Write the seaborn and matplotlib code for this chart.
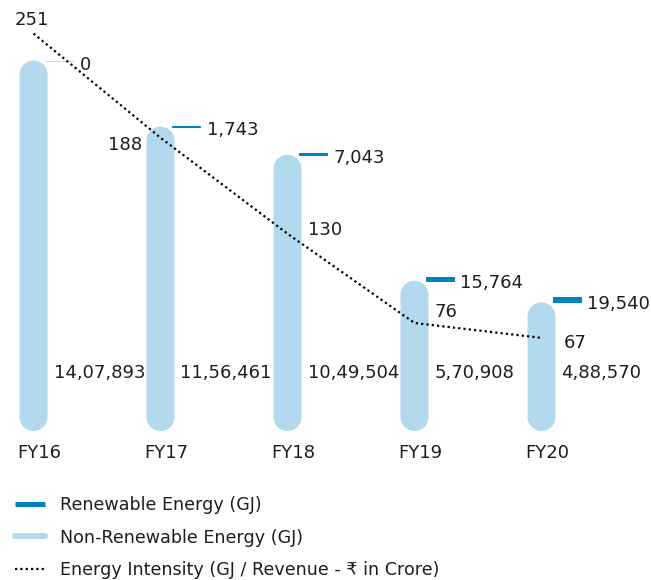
import numpy as np
import pandas as pd
import matplotlib
matplotlib.use("Agg")
import matplotlib.pyplot as plt
import matplotlib.transforms as mtransforms
from matplotlib.patches import PathPatch
from matplotlib.path import Path
from matplotlib.lines import Line2D
import seaborn as sns

# ---- data -----------------------------------------------------------------
years = ["FY16", "FY17", "FY18", "FY19", "FY20"]
non_renewable = [1407893, 1156461, 1049504, 570908, 488570]   # GJ
renewable = [0, 1743, 7043, 15764, 19540]                     # GJ
intensity = [251, 188, 130, 76, 67]                           # GJ / Revenue (₹ crore)

legend_labels = [
    "Renewable Energy (GJ)",
    "Non-Renewable Energy (GJ)",
    "Energy Intensity (GJ / Revenue - ₹ in Crore)",
]

# ---- styling --------------------------------------------------------------
LIGHT = "#B3D9EE"
DARK = "#0080C6"
INK = "#1E1E1E"
W, H, DPI = 651, 580, 100

sns.set_theme(style="white")
plt.rcParams["font.family"] = ["DejaVu Sans"]
plt.rcParams["text.color"] = INK


def indian_format(n):
    """Group digits the Indian way: 14,07,893."""
    s = str(int(n))
    if len(s) <= 3:
        return s
    head, tail = s[:-3], s[-3:]
    groups = []
    while len(head) > 2:
        groups.insert(0, head[-2:])
        head = head[:-2]
    if head:
        groups.insert(0, head)
    return ",".join(groups + [tail])


def pill_path(x0, y0, w, h, aspect):
    """Bar outline with semicircular ends; aspect = y units per x unit on screen."""
    r = w / 2
    cx = x0 + r
    top_c = (y0 + h) / aspect - r
    bot_c = y0 / aspect + r
    top = Path.arc(0, 180)
    bot = Path.arc(180, 360)
    tv = top.vertices * r + [cx, top_c]
    bv = bot.vertices * r + [cx, bot_c]
    verts = np.vstack([tv, bv, tv[:1]])
    codes = list(top.codes) + [Path.LINETO] + list(bot.codes[1:]) + [Path.CLOSEPOLY]
    verts[:, 1] *= aspect
    return Path(verts, codes)


fig = plt.figure(figsize=(W / DPI, H / DPI), dpi=DPI)
ax = fig.add_axes([0, 0, 1, 1])

# canvas scale: one category step = 127 px, 3800 GJ per px
STEP_PX = 127.0
GJ_PER_PX = 3800.0
XLIM = (-33.5 / STEP_PX, (W - 33.5) / STEP_PX)
YLIM = (-(H - 431) * GJ_PER_PX, 431 * GJ_PER_PX)
ILIM = ((448.7 - H) / 1.654, 448.7 / 1.654)

BAR_W = 28 / STEP_PX
df = pd.DataFrame({"year": years, "non_renewable": non_renewable})
sns.barplot(data=df, x="year", y="non_renewable", color=LIGHT, saturation=1,
            width=BAR_W, ax=ax)
ax.set_xlim(*XLIM)
ax.set_ylim(*YLIM)

# turn the bars into pills
aspect = ((YLIM[1] - YLIM[0]) / H) / ((XLIM[1] - XLIM[0]) / W)
for p in list(ax.patches):
    x0, y0 = p.get_xy()
    w, h = p.get_width(), p.get_height()
    p.remove()
    ax.add_patch(PathPatch(pill_path(x0, y0, w, h, aspect), fc=LIGHT,
                           ec="none", zorder=2))

xs = np.arange(len(years))

# renewable share: a short segment stacked on top, shifted to the right
DASH_OFF = 11 / STEP_PX
DASH_W = 28 / STEP_PX
dash_colors = [LIGHT if r == 0 else DARK for r in renewable]
ax.bar(xs + DASH_OFF, renewable, bottom=non_renewable, width=DASH_W,
       align="edge", color=dash_colors, edgecolor=dash_colors, linewidth=0.7,
       zorder=3)

label_fs = 13
col_tf = mtransforms.blended_transform_factory(ax.transData, ax.transAxes)
for i in xs:
    # renewable value
    ax.annotate(indian_format(renewable[i]),
                (i + DASH_OFF + DASH_W, non_renewable[i] + renewable[i] / 2),
                xytext=(7, -9), textcoords="offset pixels",
                ha="left", va="baseline", fontsize=label_fs, color=INK)
    # non-renewable value, on a common row
    ax.text(i + 20 / STEP_PX, 1 - 378 / H, indian_format(non_renewable[i]),
            transform=col_tf, ha="left", va="baseline",
            fontsize=label_fs, color=INK)
    # category
    ax.text(i + 6 / STEP_PX, 1 - 458 / H, years[i], transform=col_tf,
            ha="center", va="baseline", fontsize=label_fs, color=INK)

ax.set_xlim(*XLIM)
ax.set_ylim(*YLIM)
ax.axis("off")

# energy intensity on its own scale
ax2 = ax.twinx()
sns.lineplot(x=xs, y=intensity, ax=ax2, color="black", linewidth=1.6,
             linestyle=(0, (1, 1.4)), zorder=5)
ax2.set_ylim(*ILIM)
ax2.set_xlim(*XLIM)

int_offsets = [(-1.5, 9, "center"), (-18, -12, "right"), (21, -1, "left"),
               (20, 5.5, "left"), (22, -10, "left")]
for i, (dx, dy, ha) in zip(xs, int_offsets):
    ax2.annotate(str(intensity[i]), (i, intensity[i]), xytext=(dx, dy),
                 textcoords="offset pixels", ha=ha, va="baseline",
                 fontsize=label_fs, color=INK)
ax2.axis("off")

# legend
handles = [
    Line2D([], [], color=DARK, linewidth=5 * 0.72, solid_capstyle="butt"),
    Line2D([], [], color=LIGHT, linewidth=6 * 0.72, solid_capstyle="round"),
    Line2D([], [], color="black", linewidth=1.6, linestyle=(0, (1, 1.4))),
]
leg_fs = 12.6
fig.legend(handles, legend_labels, loc="upper left",
           bbox_to_anchor=(15 / W, 1 - 496 / H), frameon=False,
           fontsize=leg_fs, handlelength=1.7, handletextpad=0.85,
           labelspacing=0.83, borderpad=0, borderaxespad=0,
           labelcolor=INK)

fig.savefig("out.png", dpi=DPI)
